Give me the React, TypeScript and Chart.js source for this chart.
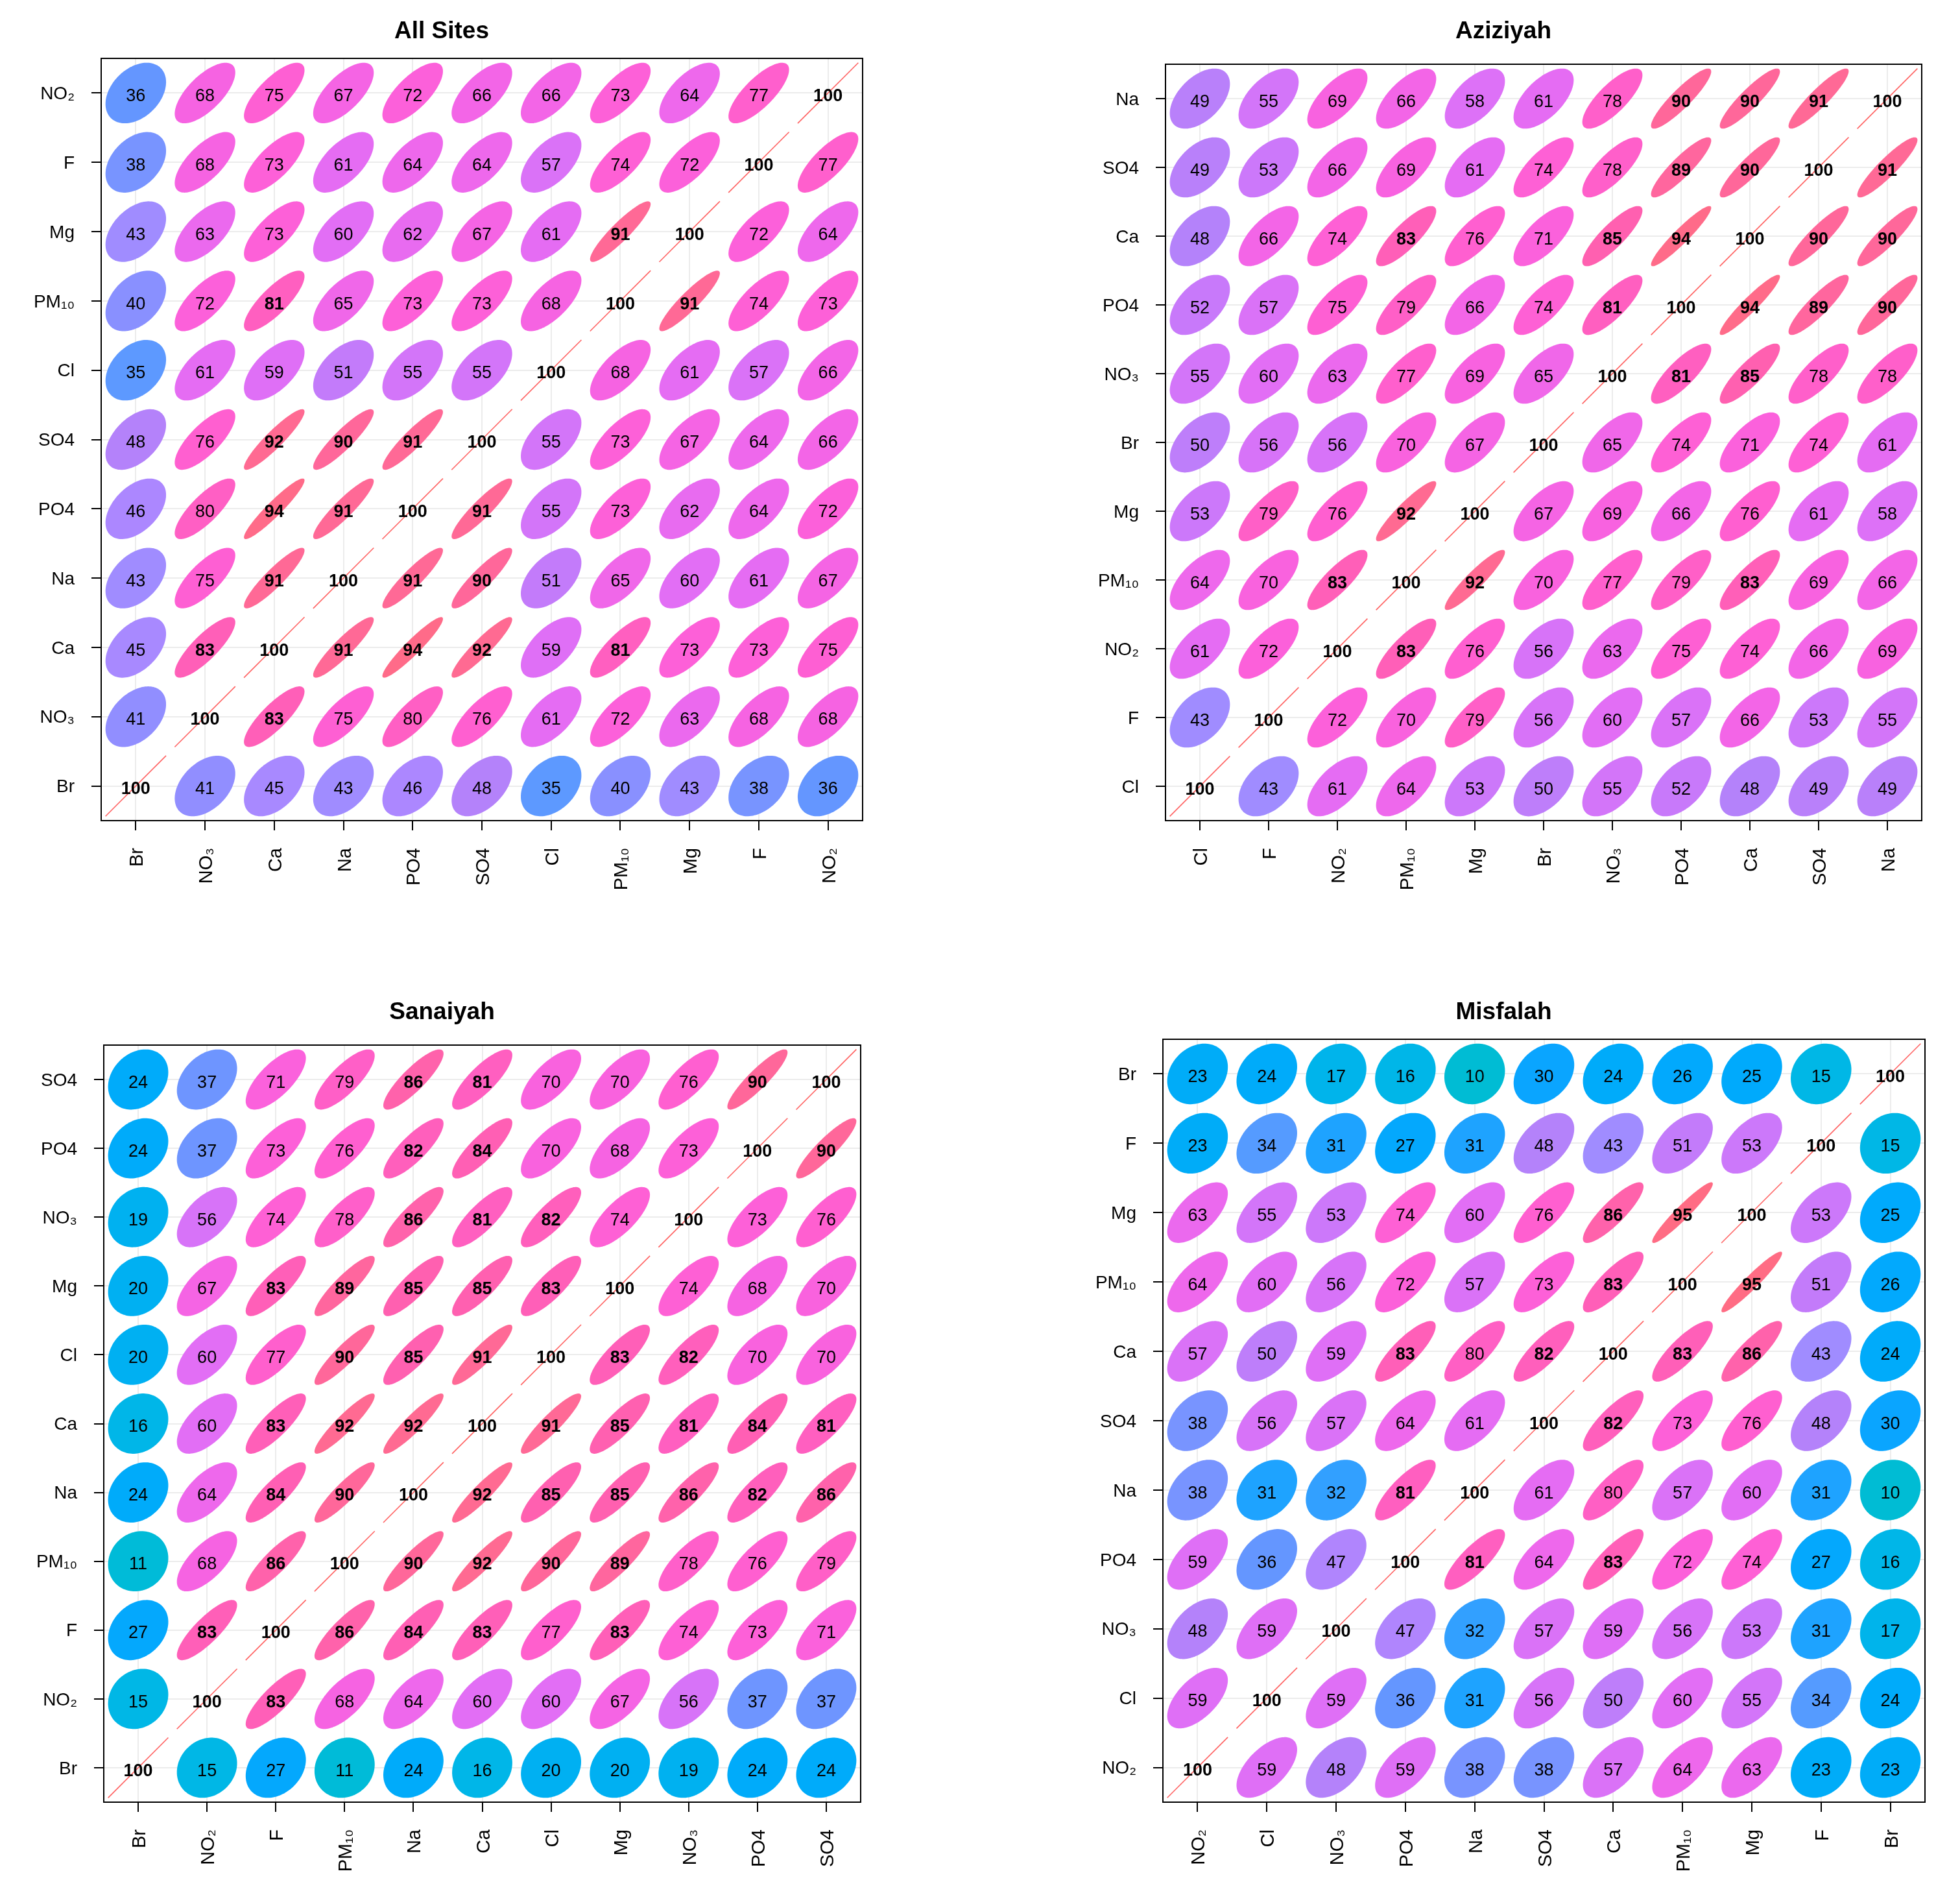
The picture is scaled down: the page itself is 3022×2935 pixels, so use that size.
import React, { useEffect, useRef } from 'react';
import { Chart, registerables } from 'chart.js';

Chart.register(...registerables);

const FONT = "'Liberation Sans', Arial, Helvetica, sans-serif";

// ---------- DATA ----------
// Variables in x-axis order (left -> right = bottom -> top on y axis)
const allSitesVars = ['Br', 'NO₃', 'Ca', 'Na', 'PO4', 'SO4', 'Cl', 'PM₁₀', 'Mg', 'F', 'NO₂'];
// Rows as they appear from top to bottom (reverse variable order)
const allSitesRows = [
  [36, 68, 75, 67, 72, 66, 66, 73, 64, 77, 100],
  [38, 68, 73, 61, 64, 64, 57, 74, 72, 100, 77],
  [43, 63, 73, 60, 62, 67, 61, 91, 100, 72, 64],
  [40, 72, 81, 65, 73, 73, 68, 100, 91, 74, 73],
  [35, 61, 59, 51, 55, 55, 100, 68, 61, 57, 66],
  [48, 76, 92, 90, 91, 100, 55, 73, 67, 64, 66],
  [46, 80, 94, 91, 100, 91, 55, 73, 62, 64, 72],
  [43, 75, 91, 100, 91, 90, 51, 65, 60, 61, 67],
  [45, 83, 100, 91, 94, 92, 59, 81, 73, 73, 75],
  [41, 100, 83, 75, 80, 76, 61, 72, 63, 68, 68],
  [100, 41, 45, 43, 46, 48, 35, 40, 43, 38, 36],
];

const aziziyahVars = ['Cl', 'F', 'NO₂', 'PM₁₀', 'Mg', 'Br', 'NO₃', 'PO4', 'Ca', 'SO4', 'Na'];
const aziziyahRows = [
  [49, 55, 69, 66, 58, 61, 78, 90, 90, 91, 100],
  [49, 53, 66, 69, 61, 74, 78, 89, 90, 100, 91],
  [48, 66, 74, 83, 76, 71, 85, 94, 100, 90, 90],
  [52, 57, 75, 79, 66, 74, 81, 100, 94, 89, 90],
  [55, 60, 63, 77, 69, 65, 100, 81, 85, 78, 78],
  [50, 56, 56, 70, 67, 100, 65, 74, 71, 74, 61],
  [53, 79, 76, 92, 100, 67, 69, 66, 76, 61, 58],
  [64, 70, 83, 100, 92, 70, 77, 79, 83, 69, 66],
  [61, 72, 100, 83, 76, 56, 63, 75, 74, 66, 69],
  [43, 100, 72, 70, 79, 56, 60, 57, 66, 53, 55],
  [100, 43, 61, 64, 53, 50, 55, 52, 48, 49, 49],
];

const sanaiyahVars = ['Br', 'NO₂', 'F', 'PM₁₀', 'Na', 'Ca', 'Cl', 'Mg', 'NO₃', 'PO4', 'SO4'];
const sanaiyahRows = [
  [24, 37, 71, 79, 86, 81, 70, 70, 76, 90, 100],
  [24, 37, 73, 76, 82, 84, 70, 68, 73, 100, 90],
  [19, 56, 74, 78, 86, 81, 82, 74, 100, 73, 76],
  [20, 67, 83, 89, 85, 85, 83, 100, 74, 68, 70],
  [20, 60, 77, 90, 85, 91, 100, 83, 82, 70, 70],
  [16, 60, 83, 92, 92, 100, 91, 85, 81, 84, 81],
  [24, 64, 84, 90, 100, 92, 85, 85, 86, 82, 86],
  [11, 68, 86, 100, 90, 92, 90, 89, 78, 76, 79],
  [27, 83, 100, 86, 84, 83, 77, 83, 74, 73, 71],
  [15, 100, 83, 68, 64, 60, 60, 67, 56, 37, 37],
  [100, 15, 27, 11, 24, 16, 20, 20, 19, 24, 24],
];

const misfalahVars = ['NO₂', 'Cl', 'NO₃', 'PO4', 'Na', 'SO4', 'Ca', 'PM₁₀', 'Mg', 'F', 'Br'];
const misfalahRows = [
  [23, 24, 17, 16, 10, 30, 24, 26, 25, 15, 100],
  [23, 34, 31, 27, 31, 48, 43, 51, 53, 100, 15],
  [63, 55, 53, 74, 60, 76, 86, 95, 100, 53, 25],
  [64, 60, 56, 72, 57, 73, 83, 100, 95, 51, 26],
  [57, 50, 59, 83, 80, 82, 100, 83, 86, 43, 24],
  [38, 56, 57, 64, 61, 100, 82, 73, 76, 48, 30],
  [38, 31, 32, 81, 100, 61, 80, 57, 60, 31, 10],
  [59, 36, 47, 100, 81, 64, 83, 72, 74, 27, 16],
  [48, 59, 100, 47, 32, 57, 59, 56, 53, 31, 17],
  [59, 100, 59, 36, 31, 56, 50, 60, 55, 34, 24],
  [100, 59, 48, 59, 38, 38, 57, 64, 63, 23, 23],
];

const panelTitles = ['All Sites', 'Aziziyah', 'Sanaiyah', 'Misfalah'];

// ---------- COLOUR RAMP ----------
const rampStops: [number, number, number, number][] = [
  [0, 0, 195, 200],
  [10, 0, 188, 212],
  [15, 0, 183, 230],
  [20, 0, 176, 242],
  [25, 0, 170, 252],
  [30, 10, 165, 255],
  [32, 50, 160, 255],
  [34, 85, 155, 255],
  [36, 100, 150, 255],
  [38, 120, 148, 255],
  [41, 145, 142, 255],
  [43, 160, 140, 255],
  [46, 172, 135, 255],
  [48, 180, 130, 250],
  [52, 200, 121, 250],
  [56, 215, 115, 248],
  [60, 226, 110, 245],
  [63, 235, 105, 238],
  [67, 245, 100, 228],
  [72, 252, 96, 218],
  [76, 255, 95, 208],
  [80, 255, 95, 196],
  [84, 255, 95, 180],
  [88, 255, 100, 162],
  [91, 255, 105, 150],
  [95, 255, 108, 132],
  [100, 255, 110, 115],
];

function rampColor(v: number): string {
  for (let i = 1; i < rampStops.length; i++) {
    const a = rampStops[i - 1];
    const b = rampStops[i];
    if (v <= b[0]) {
      const t = (v - a[0]) / (b[0] - a[0]);
      const r = Math.round(a[1] + (b[1] - a[1]) * t);
      const g = Math.round(a[2] + (b[2] - a[2]) * t);
      const bl = Math.round(a[3] + (b[3] - a[3]) * t);
      return `rgb(${r},${g},${bl})`;
    }
  }
  const l = rampStops[rampStops.length - 1];
  return `rgb(${l[1]},${l[2]},${l[3]})`;
}

// ---------- LAYOUT ----------
type PanelCfg = {
  title: string;
  vars: string[];
  rows: number[][];
  x0: number; y0: number; w: number; h: number;
  box: { l: number; t: number; r: number; b: number };
  titleBaseline: number;
};

const AXW = 140;
const AXH = 140;

const panels: PanelCfg[] = [
  { title: panelTitles[0], vars: allSitesVars, rows: allSitesRows, x0: 0, y0: 0, w: 1511, h: 1467,
    box: { l: 156, t: 90, r: 1330, b: 1265 }, titleBaseline: 59 },
  { title: panelTitles[1], vars: aziziyahVars, rows: aziziyahRows, x0: 1511, y0: 0, w: 1511, h: 1467,
    box: { l: 1797, t: 99, r: 2963, b: 1265 }, titleBaseline: 59 },
  { title: panelTitles[2], vars: sanaiyahVars, rows: sanaiyahRows, x0: 0, y0: 1467, w: 1511, h: 1468,
    box: { l: 160, t: 1611, r: 1327, b: 2778 }, titleBaseline: 1571 },
  { title: panelTitles[3], vars: misfalahVars, rows: misfalahRows, x0: 1511, y0: 1467, w: 1511, h: 1468,
    box: { l: 1793, t: 1602, r: 2968, b: 2778 }, titleBaseline: 1571 },
];

// ---------- PLUGIN: ellipses, numbers, box, title ----------
const corrPlugin = {
  id: 'corrEllipses',
  afterDatasetsDraw(chart: any, _args: any, opts: any) {
    const ctx: CanvasRenderingContext2D = chart.ctx;
    const xs = chart.scales.x;
    const meta = chart.getDatasetMeta(0);
    const data = chart.data.datasets[0].data as any[];
    const cell = Math.abs(xs.getPixelForValue(1) - xs.getPixelForValue(0));
    const size = cell * 0.875;
    const fs = 27;
    ctx.save();
    // ellipses
    meta.data.forEach((el: any, i: number) => {
      const v = data[i].v as number;
      const cx = el.x;
      const cy = el.y;
      const r = v / 100;
      if (v >= 100) {
        ctx.strokeStyle = 'rgba(255,90,90,0.95)';
        ctx.lineWidth = 1.6;
        ctx.beginPath();
        ctx.moveTo(cx - size / 2, cy + size / 2);
        ctx.lineTo(cx + size / 2, cy - size / 2);
        ctx.stroke();
      } else {
        const d = Math.acos(Math.max(-1, Math.min(1, r)));
        ctx.fillStyle = rampColor(v);
        ctx.beginPath();
        const N = 120;
        for (let k = 0; k <= N; k++) {
          const t = (k / N) * Math.PI * 2;
          const ex = (Math.cos(t + d / 2) / 2) * size;
          const ey = (Math.cos(t - d / 2) / 2) * size;
          if (k === 0) ctx.moveTo(cx + ex, cy - ey);
          else ctx.lineTo(cx + ex, cy - ey);
        }
        ctx.closePath();
        ctx.fill();
      }
    });
    // numbers
    ctx.fillStyle = '#000';
    ctx.textAlign = 'center';
    ctx.textBaseline = 'alphabetic';
    meta.data.forEach((el: any, i: number) => {
      const v = data[i].v as number;
      ctx.font = `${v > 80 ? 'bold ' : ''}${fs}px ${FONT}`;
      ctx.fillText(String(v), el.x, el.y + fs * 0.47);
    });
    // box
    const a = chart.chartArea;
    ctx.strokeStyle = '#000';
    ctx.lineWidth = 2;
    ctx.strokeRect(a.left, a.top, a.right - a.left, a.bottom - a.top);
    // title
    ctx.font = `bold 37px ${FONT}`;
    ctx.textAlign = 'center';
    ctx.textBaseline = 'alphabetic';
    ctx.fillText(opts.title, (a.left + a.right) / 2 - 62, opts.titleY);
    ctx.restore();
  },
};

function Panel({ cfg }: { cfg: PanelCfg }) {
  const ref = useRef<HTMLCanvasElement>(null);
  useEffect(() => {
    const canvas = ref.current!;
    const yLabels = [...cfg.vars].reverse();
    const points: any[] = [];
    cfg.rows.forEach((row, ri) =>
      row.forEach((v, ci) => points.push({ x: cfg.vars[ci], y: yLabels[ri], v }))
    );
    const pad = {
      left: cfg.box.l - AXW - cfg.x0,
      top: cfg.box.t - cfg.y0,
      right: cfg.x0 + cfg.w - cfg.box.r,
      bottom: cfg.y0 + cfg.h - cfg.box.b - AXH,
    };
    const gridCommon = {
      color: '#ECECEC',
      lineWidth: 2,
      tickColor: '#000',
      tickLength: 15,
      tickWidth: 2,
      offset: false,
      drawTicks: true,
    };
    const chart = new Chart(canvas, {
      type: 'scatter',
      data: {
        datasets: [
          {
            data: points,
            pointRadius: 0,
            pointHoverRadius: 0,
            showLine: false,
          },
        ],
      },
      options: {
        animation: false,
        responsive: false,
        devicePixelRatio: 1,
        events: [],
        layout: { padding: pad },
        plugins: {
          legend: { display: false },
          tooltip: { enabled: false },
          title: { display: false },
          corrEllipses: { title: cfg.title, titleY: cfg.titleBaseline - cfg.y0 },
        } as any,
        scales: {
          x: {
            type: 'category',
            labels: cfg.vars,
            offset: true,
            position: 'bottom',
            grid: gridCommon,
            border: { display: false },
            ticks: {
              autoSkip: false,
              maxRotation: 90,
              minRotation: 90,
              padding: 27,
              labelOffset: 3,
              color: '#000',
              font: { family: FONT, size: 29 },
            },
            afterFit: (s: any) => {
              s.height = AXH;
            },
          },
          y: {
            type: 'category',
            labels: yLabels,
            offset: true,
            position: 'left',
            grid: gridCommon,
            border: { display: false },
            ticks: {
              autoSkip: false,
              padding: 26,
              labelOffset: 2,
              color: '#000',
              font: { family: FONT, size: 28 },
            },
            afterFit: (s: any) => {
              s.width = AXW;
            },
          },
        } as any,
      },
      plugins: [corrPlugin as any],
    });
    return () => chart.destroy();
  }, [cfg]);
  return (
    <canvas
      ref={ref}
      width={cfg.w}
      height={cfg.h}
      style={{ position: 'absolute', left: cfg.x0, top: cfg.y0, width: cfg.w, height: cfg.h }}
    />
  );
}

export default function App() {
  return (
    <div
      style={{
        position: 'absolute',
        left: 0,
        top: 0,
        width: 3022,
        height: 2935,
        background: '#ffffff',
        overflow: 'hidden',
      }}
    >
      {panels.map((p) => (
        <Panel key={p.title} cfg={p} />
      ))}
    </div>
  );
}
